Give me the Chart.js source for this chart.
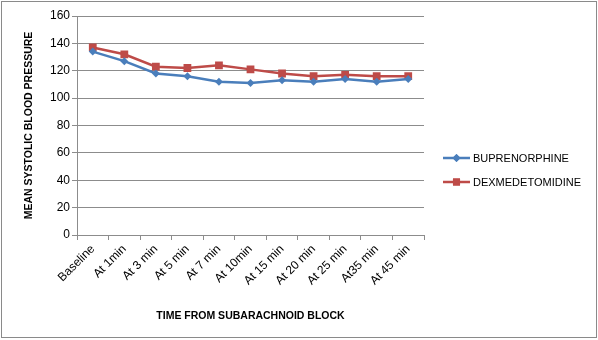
<!DOCTYPE html>
<html>
<head>
<meta charset="utf-8">
<script src="https://cdn.jsdelivr.net/npm/chart.js@4"></script>
<style>
  html, body { margin: 0; padding: 0; background: #fff; }
  #wrap { position: relative; width: 598px; height: 340px; }
  #frame { position: absolute; left: 1px; top: 1px; width: 594px; height: 335px; border: 1px solid #8a8a8a; pointer-events: none; }
  canvas { position: absolute; left: 0; top: 0; }
</style>
</head>
<body>
<div id="wrap">
  <canvas id="c" width="598" height="340"></canvas>
  <div id="frame"></div>
</div>
<script>
'use strict';
const timepoints = ['Baseline','At 1min','At 3 min','At 5 min','At 7 min','At 10min','At 15 min','At 20 min','At 25 min','At35 min','At 45 min'];
const buprenorphine = [134, 127, 118, 116, 112, 111, 113, 112, 114, 112, 114];
const dexmedetomidine = [137, 132, 123, 122, 124, 121, 118, 116, 117, 116, 116];
const yTicks = [0, 20, 40, 60, 80, 100, 120, 140, 160];

const BLUE = '#4a7ebb', RED = '#be4b48', GRID = '#8c8c8c';
const FONT = '"Liberation Sans", Arial, sans-serif';

// legend drawn as line + marker, like office charts
const sideLegend = {
  id: 'sideLegend',
  afterDraw(chart) {
    const ctx = chart.ctx;
    const rows = [
      { label: 'BUPRENORPHINE', color: BLUE, style: 'rectRot', r: 4, y: 158 },
      { label: 'DEXMEDETOMIDINE', color: RED, style: 'rect', r: 5, y: 182 },
    ];
    ctx.save();
    rows.forEach(row => {
      ctx.strokeStyle = row.color;
      ctx.lineWidth = 2.5;
      ctx.beginPath(); ctx.moveTo(443, row.y); ctx.lineTo(470, row.y); ctx.stroke();
      ctx.fillStyle = row.color;
      Chart.helpers.drawPoint(ctx, { pointStyle: row.style, radius: row.r, borderWidth: 0 }, 456.5, row.y);
      ctx.fill();
      ctx.fillStyle = '#000';
      ctx.font = '11px ' + FONT;
      ctx.textBaseline = 'middle';
      ctx.fillText(row.label, 473, row.y + 0.5);
    });
    ctx.restore();
  }
};

new Chart(document.getElementById('c'), {
  type: 'line',
  data: {
    labels: timepoints,
    datasets: [
      { label: 'BUPRENORPHINE', data: buprenorphine, borderColor: BLUE, backgroundColor: BLUE,
        borderWidth: 2.5, pointStyle: 'rectRot', pointRadius: 4, pointBorderWidth: 0, tension: 0 },
      { label: 'DEXMEDETOMIDINE', data: dexmedetomidine, borderColor: RED, backgroundColor: RED,
        borderWidth: 2.5, pointStyle: 'rect', pointRadius: 5.5, pointBorderWidth: 0, tension: 0 },
    ]
  },
  options: {
    responsive: false,
    animation: false,
    layout: { padding: { left: 18, top: 16, right: 174, bottom: 14 } },
    plugins: { legend: { display: false }, tooltip: { enabled: false } },
    scales: {
      x: {
        offset: true,
        grid: { offset: true, drawOnChartArea: false, drawTicks: true, tickLength: 5, color: GRID },
        border: { color: GRID },
        ticks: { color: '#000', font: { family: FONT, size: 12 }, minRotation: 45, maxRotation: 45, padding: 2 },
        title: { display: true, text: 'TIME FROM SUBARACHNOID BLOCK', color: '#000',
          font: { family: FONT, size: 10.5, weight: 'bold' }, padding: { top: 4, bottom: 4 } },
        afterFit(s) { s.height = 91; }
      },
      y: {
        min: 0, max: 160,
        afterBuildTicks(s) { s.ticks = yTicks.map(v => ({ value: v })); },
        grid: { color: GRID, tickLength: 5 },
        border: { color: GRID },
        ticks: { color: '#000', font: { family: FONT, size: 12 }, padding: 2 },
        title: { display: true, text: 'MEAN SYSTOLIC BLOOD PRESSURE', color: '#000',
          font: { family: FONT, size: 10.5, weight: 'bold' }, padding: { top: 5, bottom: 2 } },
        afterFit(s) { s.width = 59; }
      }
    }
  },
  plugins: [sideLegend]
});
</script>
</body>
</html>
